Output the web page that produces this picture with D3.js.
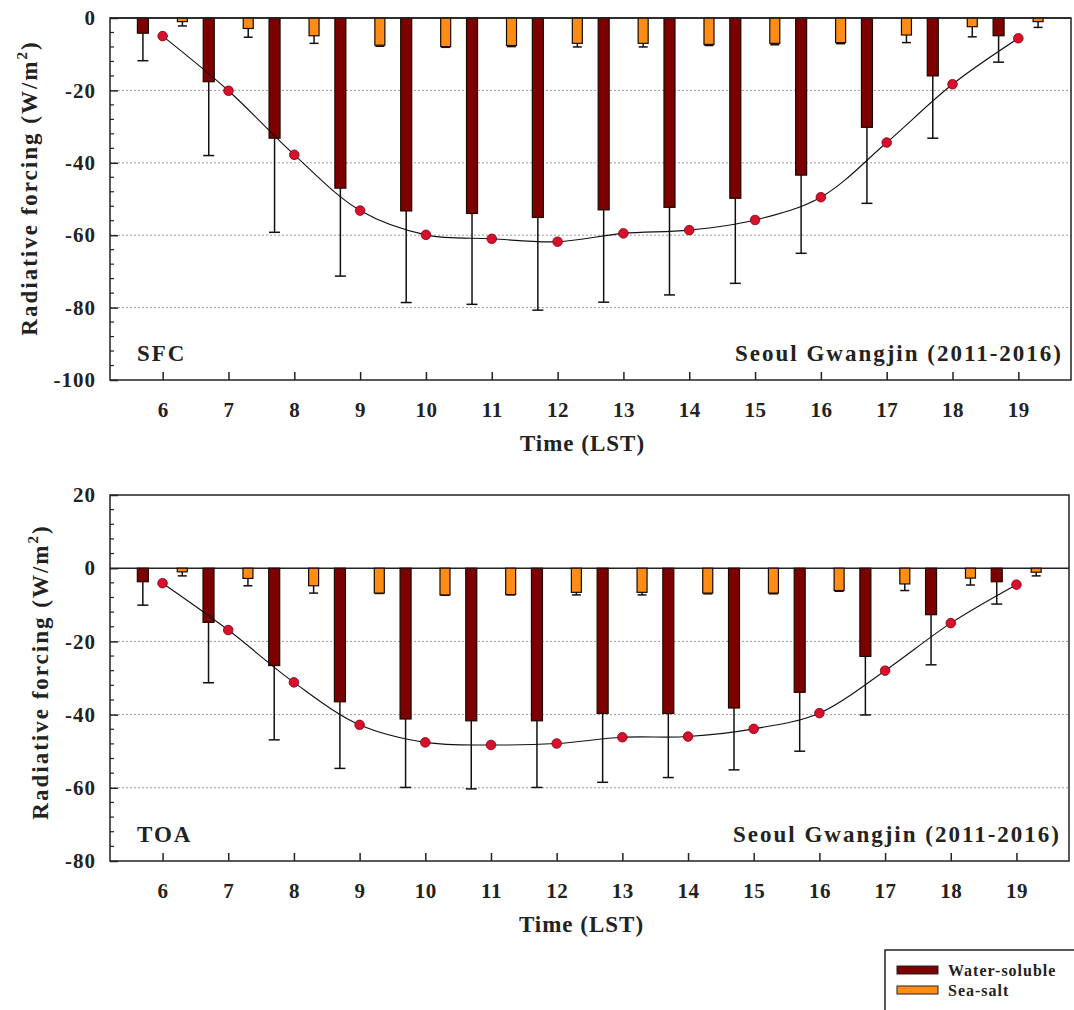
<!DOCTYPE html>
<html>
<head>
<meta charset="utf-8">
<script src="https://cdn.jsdelivr.net/npm/d3@7"></script>
<style>
  html, body { margin: 0; padding: 0; background: #fff; }
  svg text { font-family: "Liberation Serif", "Times New Roman", Times, "DejaVu Serif", serif !important; font-weight: bold; fill: #222; }
</style>
</head>
<body>
<svg id="chart" width="1074" height="1010"></svg>
<script>
// Hour of day (local standard time)
const hours = [6, 7, 8, 9, 10, 11, 12, 13, 14, 15, 16, 17, 18, 19];

// Surface (SFC) radiative forcing, W/m2
const sfcWater    = [-4.2, -17.6, -33.2, -47.0, -53.3, -54.0, -55.1, -53.0, -52.3, -49.8, -43.4, -30.2, -16.0, -4.9];
const sfcWaterErr = [7.6, 20.4, 26.0, 24.3, 25.3, 25.1, 25.6, 25.5, 24.2, 23.5, 21.6, 21.0, 17.2, 7.3];
const sfcSalt     = [-1.0, -2.9, -4.9, -7.5, -7.9, -7.6, -7.0, -7.0, -7.3, -7.0, -6.8, -4.7, -2.4, -1.0];
const sfcSaltErr  = [1.2, 2.4, 2.1, 0.3, 0.2, 0.3, 1.0, 1.0, 0.3, 0.4, 0.3, 2.1, 2.8, 1.6];
const sfcTotal    = [-5.0, -20.1, -37.8, -53.2, -59.9, -61.0, -61.8, -59.5, -58.6, -55.8, -49.5, -34.4, -18.3, -5.6];

// Top-of-atmosphere (TOA) radiative forcing, W/m2
const toaWater    = [-3.7, -14.8, -26.6, -36.5, -41.2, -41.7, -41.7, -39.7, -39.7, -38.2, -33.9, -24.1, -12.7, -3.7];
const toaWaterErr = [6.4, 16.5, 20.3, 18.2, 18.7, 18.6, 18.2, 18.8, 17.5, 16.9, 16.1, 16.0, 13.7, 6.1];
const toaSalt     = [-1.0, -2.8, -4.8, -6.8, -7.3, -7.2, -6.6, -6.6, -6.8, -6.8, -6.1, -4.3, -2.7, -1.1];
const toaSaltErr  = [1.1, 2.0, 2.0, 0.1, 0.1, 0.1, 0.7, 0.7, 0.2, 0.2, 0.2, 1.8, 1.9, 1.0];
const toaTotal    = [-4.1, -16.9, -31.2, -42.8, -47.6, -48.3, -47.9, -46.2, -46.0, -43.9, -39.6, -28.0, -15.0, -4.5];

// Axis settings
const xDomain = [5.2, 19.8];
const sfcYTicks = [0, -20, -40, -60, -80, -100];
const toaYTicks = [20, 0, -20, -40, -60, -80];

const seriesNames = ["Water-soluble", "Sea-salt"];
const colorWater = "#7d0000";
const colorSalt = "#ff8c14";
const colorDot = "#d8102c";

const svg = d3.select("#chart");

function drawPanel(cfg) {
  const x = d3.scaleLinear().domain(xDomain).range([cfg.left, cfg.right]);
  const y = d3.scaleLinear().domain(cfg.yDomain).range([cfg.bottom, cfg.top]);
  const g = svg.append("g");
  const offset = 0.3;

  // dotted horizontal grid
  g.selectAll(".grid").data(cfg.grid).join("line")
    .attr("x1", cfg.left).attr("x2", cfg.right)
    .attr("y1", d => y(d)).attr("y2", d => y(d))
    .attr("stroke", "#9a9a9a").attr("stroke-width", 1).attr("stroke-dasharray", "2,2");

  // zero line
  g.append("line")
    .attr("x1", cfg.left).attr("x2", cfg.right)
    .attr("y1", y(0)).attr("y2", y(0))
    .attr("stroke", "#222").attr("stroke-width", 1.5);

  // error bars (downward) and bars for both components
  function barSeries(vals, errs, shift, fill, capW, w) {
    g.append("g").selectAll("line").data(hours).join("line")
      .attr("x1", d => x(d + shift)).attr("x2", d => x(d + shift))
      .attr("y1", (d, i) => y(vals[i])).attr("y2", (d, i) => y(vals[i] - errs[i]))
      .attr("stroke", "#111").attr("stroke-width", 1.5);
    g.append("g").selectAll("line").data(hours).join("line")
      .attr("x1", d => x(d + shift) - capW / 2).attr("x2", d => x(d + shift) + capW / 2)
      .attr("y1", (d, i) => y(vals[i] - errs[i])).attr("y2", (d, i) => y(vals[i] - errs[i]))
      .attr("stroke", "#111").attr("stroke-width", 1.5);
    g.append("g").selectAll("rect").data(hours).join("rect")
      .attr("x", d => x(d + shift) - w / 2)
      .attr("width", w)
      .attr("y", y(0))
      .attr("height", (d, i) => y(vals[i]) - y(0))
      .attr("fill", fill).attr("stroke", "#1a0a00").attr("stroke-width", 1.2);
  }
  barSeries(cfg.water, cfg.waterErr, -offset, colorWater, 11, 11);
  barSeries(cfg.salt, cfg.saltErr, offset, colorSalt, 9, 10);

  // total forcing curve with markers
  const line = d3.line()
    .x((d, i) => x(hours[i]))
    .y(d => y(d))
    .curve(d3.curveCatmullRom.alpha(0.5));
  g.append("path").datum(cfg.total)
    .attr("d", line).attr("fill", "none")
    .attr("stroke", "#111").attr("stroke-width", 1.1);
  g.selectAll(".dot").data(cfg.total).join("circle")
    .attr("cx", (d, i) => x(hours[i])).attr("cy", d => y(d))
    .attr("r", 4.8).attr("fill", colorDot).attr("stroke", "#7a0010").attr("stroke-width", 0.8);

  // frame
  g.append("rect")
    .attr("x", cfg.left).attr("y", cfg.top)
    .attr("width", cfg.right - cfg.left).attr("height", cfg.bottom - cfg.top)
    .attr("fill", "none").attr("stroke", "#222").attr("stroke-width", 1.5);

  // left axis: inward ticks, minor every 4 units
  const yAxis = d3.axisLeft(y).tickValues(cfg.yTicks).tickSize(-8).tickPadding(14)
    .tickFormat(d => String(d));
  const ya = g.append("g").attr("transform", `translate(${cfg.left},0)`).call(yAxis);
  ya.select(".domain").remove();
  ya.selectAll(".tick line").attr("stroke", "#222").attr("stroke-width", 1.5);
  ya.selectAll(".tick text").attr("font-size", 21).attr("letter-spacing", "1px").attr("fill", "#222");
  const minors = d3.range(cfg.yDomain[0], cfg.yDomain[1] + 0.01, 4).filter(v => v % 20 !== 0);
  g.append("g").selectAll("line").data(minors).join("line")
    .attr("x1", cfg.left).attr("x2", cfg.left + 4)
    .attr("y1", d => y(d)).attr("y2", d => y(d))
    .attr("stroke", "#222").attr("stroke-width", 1.2);

  // bottom axis: inward ticks at each hour
  const xAxis = d3.axisBottom(x).tickValues(hours).tickSize(-8).tickPadding(22).tickFormat(d3.format("d"));
  const xa = g.append("g").attr("transform", `translate(0,${cfg.bottom})`).call(xAxis);
  xa.select(".domain").remove();
  xa.selectAll(".tick line").attr("stroke", "#222").attr("stroke-width", 1.5);
  xa.selectAll(".tick text").attr("font-size", 21).attr("letter-spacing", "0.5px").attr("fill", "#222");

  // axis titles
  g.append("text")
    .attr("x", (cfg.left + cfg.right) / 2 - 8).attr("y", cfg.bottom + 71)
    .attr("text-anchor", "middle").attr("font-size", 23).attr("letter-spacing", "1px")
    .text("Time (LST)");

  const yt = g.append("text")
    .attr("transform", `translate(${cfg.titleX},${cfg.titleY}) rotate(-90)`)
    .attr("text-anchor", "middle").attr("font-size", 23).attr("letter-spacing", "2px");
  yt.append("tspan").text("Radiative forcing (W/m");
  yt.append("tspan").attr("font-size", 15).attr("dy", -10).text("2");
  yt.append("tspan").attr("dy", 10).text(")");

  // panel annotations
  g.append("text").attr("x", cfg.left + 27).attr("y", cfg.labelY)
    .attr("font-size", 23).attr("letter-spacing", "2px").text(cfg.label);
  g.append("text").attr("x", cfg.right - 8).attr("y", cfg.labelY)
    .attr("text-anchor", "end").attr("font-size", 23).attr("letter-spacing", "2px")
    .text("Seoul Gwangjin (2011-2016)");
}

drawPanel({
  left: 110, right: 1071, top: 18, bottom: 380,
  yDomain: [-100, 0], yTicks: sfcYTicks, grid: [-20, -40, -60, -80],
  water: sfcWater, waterErr: sfcWaterErr, salt: sfcSalt, saltErr: sfcSaltErr, total: sfcTotal,
  titleX: 37, titleY: 188, label: "SFC", labelY: 361
});

drawPanel({
  left: 110, right: 1069, top: 495, bottom: 861,
  yDomain: [-80, 20], yTicks: toaYTicks, grid: [-20, -40, -60],
  water: toaWater, waterErr: toaWaterErr, salt: toaSalt, saltErr: toaSaltErr, total: toaTotal,
  titleX: 48, titleY: 672, label: "TOA", labelY: 842
});

// legend
const lg = svg.append("g");
lg.append("rect").attr("x", 885).attr("y", 950).attr("width", 200).attr("height", 70)
  .attr("fill", "#fff").attr("stroke", "#222").attr("stroke-width", 1.5);
const legendColors = [colorWater, colorSalt];
seriesNames.forEach((name, i) => {
  lg.append("rect").attr("x", 897).attr("y", 966 + i * 20).attr("width", 41).attr("height", 8)
    .attr("fill", legendColors[i]).attr("stroke", "#222").attr("stroke-width", 1);
  lg.append("text").attr("x", 948).attr("y", 976 + i * 20)
    .attr("font-size", 16).attr("letter-spacing", "1px").text(name);
});
</script>
</body>
</html>
